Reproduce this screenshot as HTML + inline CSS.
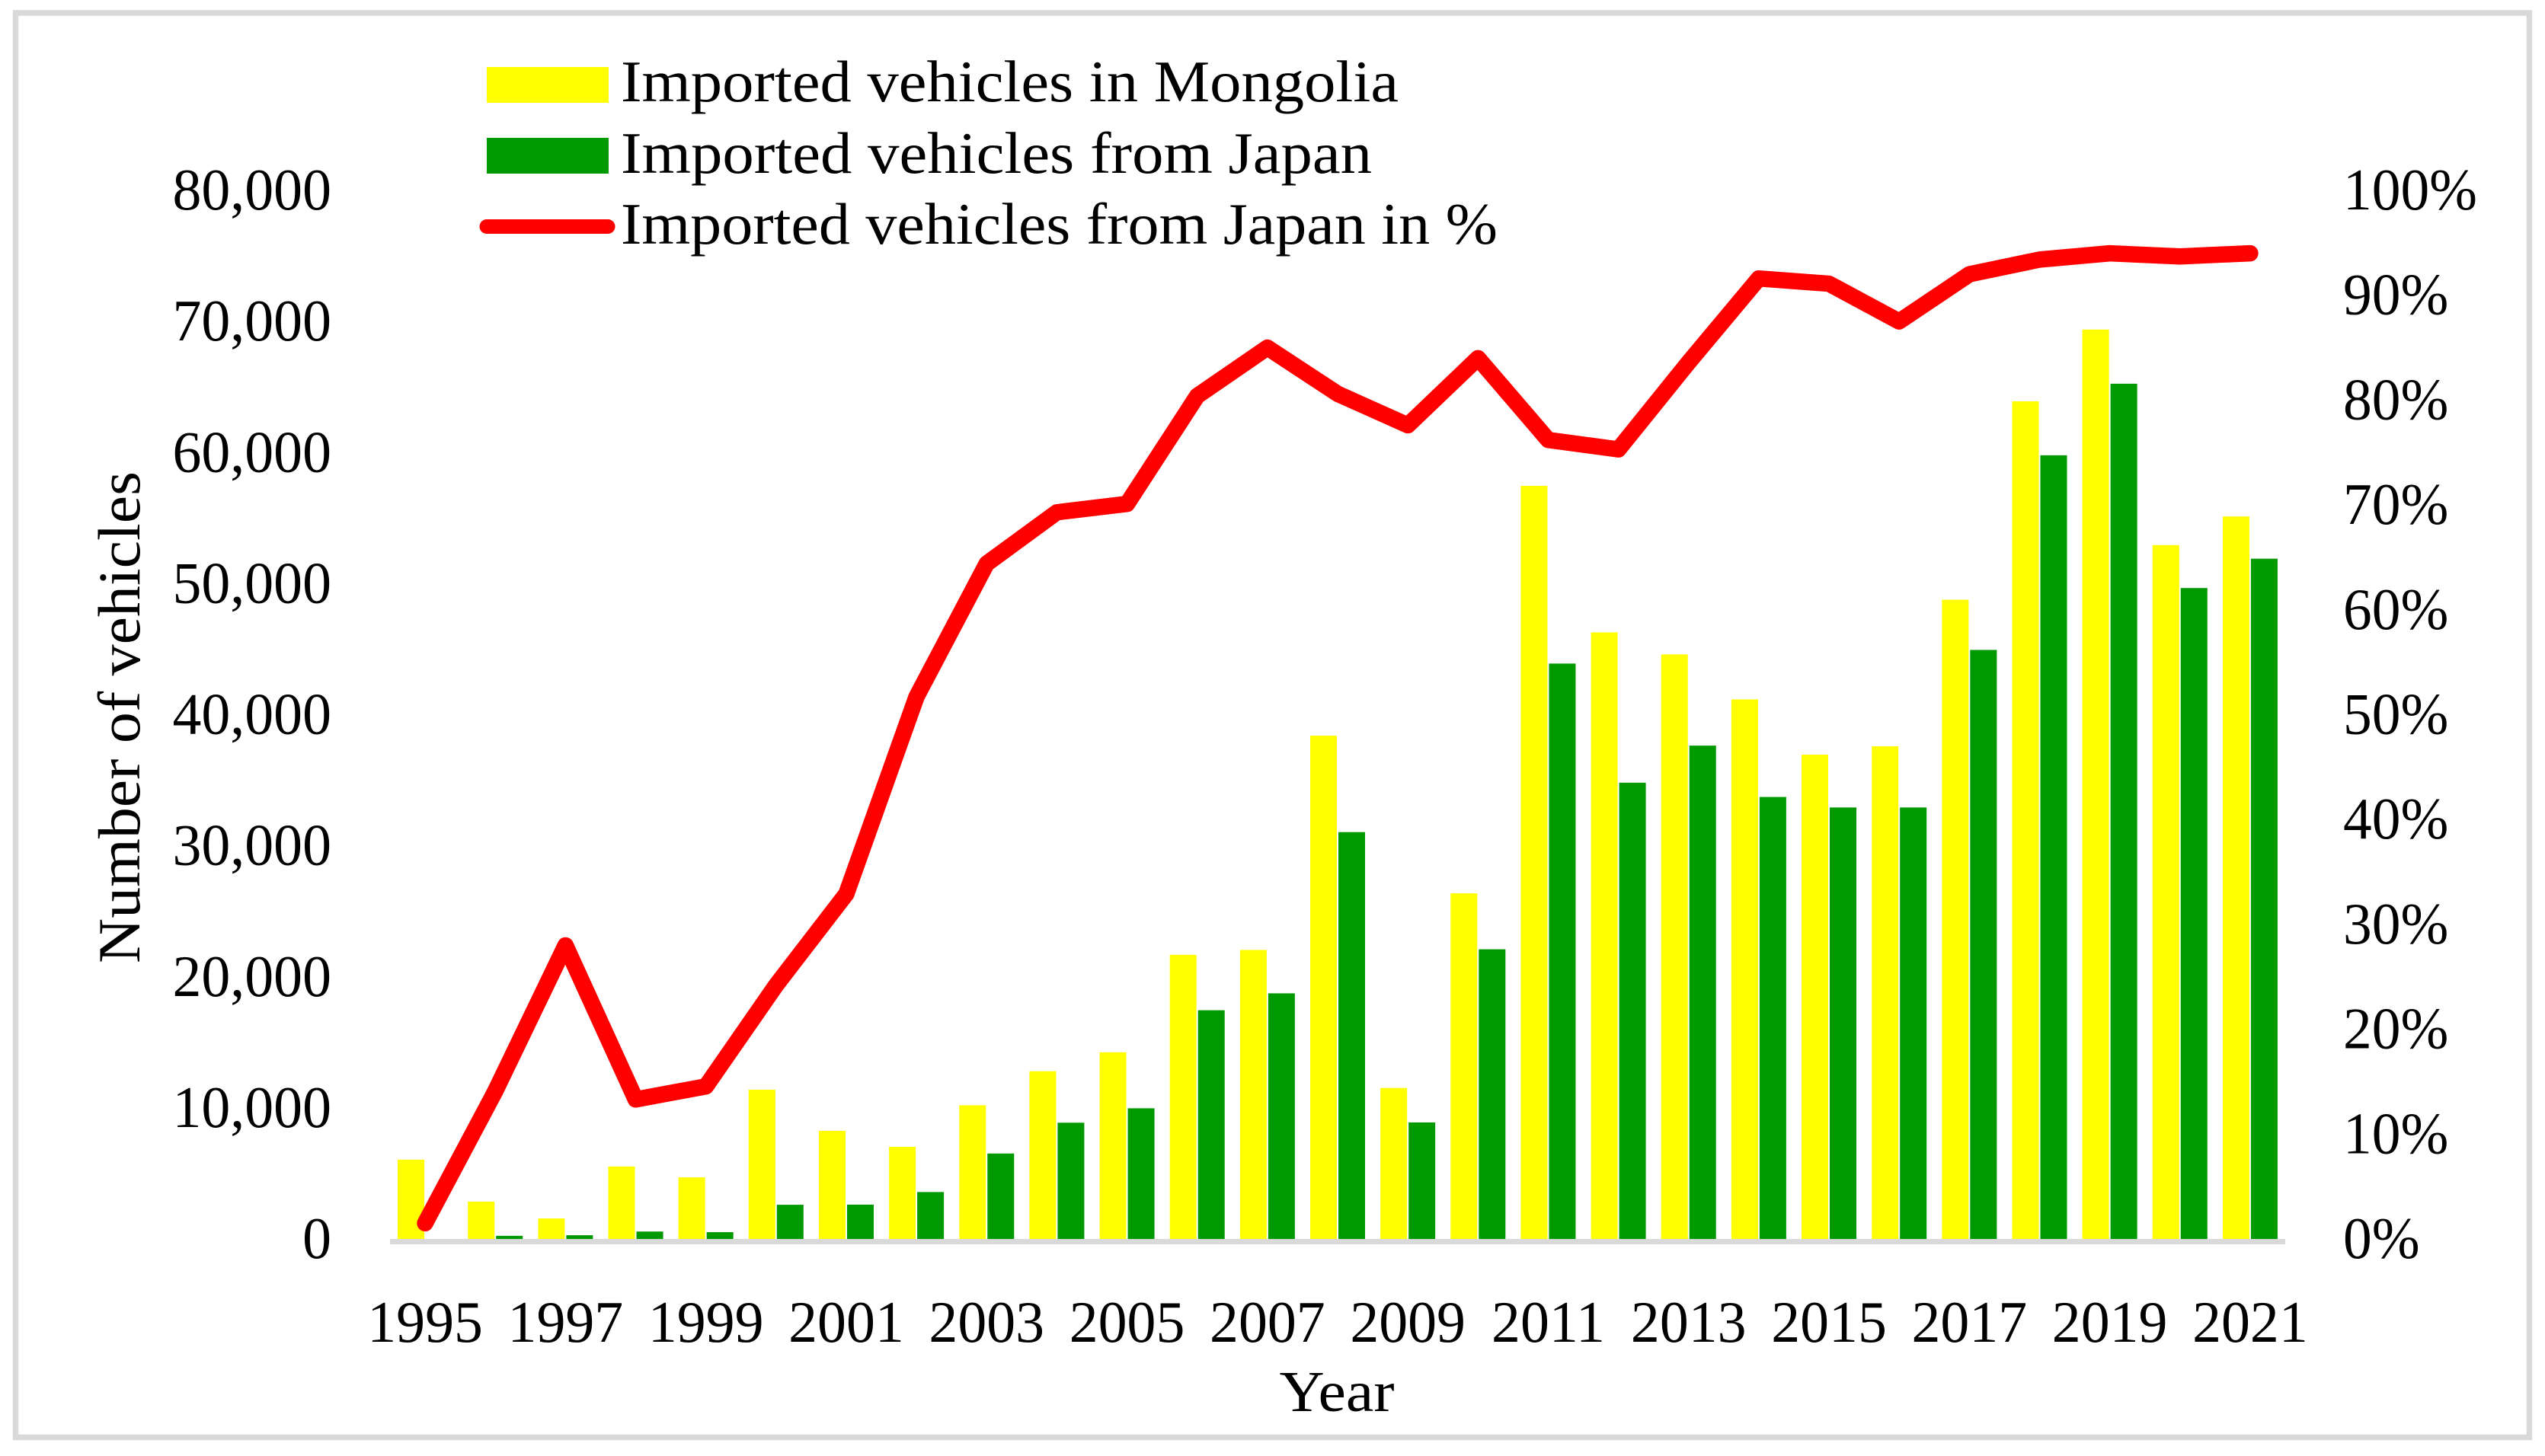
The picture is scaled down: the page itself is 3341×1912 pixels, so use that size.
<!DOCTYPE html>
<html lang="en">
<head>
<meta charset="utf-8">
<title>Imported vehicles in Mongolia</title>
<style>
html,body{margin:0;padding:0;background:#fff;}
svg{display:block;}
text{font-family:"Liberation Serif","Times New Roman",serif;fill:#000;}
</style>
</head>
<body>
<svg id="chart" xmlns="http://www.w3.org/2000/svg" width="3341" height="1912" viewBox="0 0 3341 1912">
  <rect x="0" y="0" width="3341" height="1912" fill="#ffffff"/>
  <rect x="20.5" y="17" width="3300" height="1870.5" fill="#ffffff" stroke="#d9d9d9" stroke-width="7.5"/>
  <g id="bars"></g>
  <rect x="512" y="1627" width="2488" height="7" fill="#d9d9d9"/>
  <g id="ticks"></g>
  <polyline id="share-line" fill="none" stroke="#ff0000" stroke-width="21.5" stroke-linejoin="round" stroke-linecap="round"/>
  <text transform="translate(183,942) rotate(-90)" text-anchor="middle" font-size="78" textLength="646" lengthAdjust="spacingAndGlyphs">Number of vehicles</text>
  <text x="1755" y="1853" text-anchor="middle" font-size="76" textLength="151" lengthAdjust="spacingAndGlyphs">Year</text>
  <g>
    <rect x="639" y="88" width="160" height="47" fill="#ffff00"/>
    <text x="815" y="133" font-size="77" textLength="1021" lengthAdjust="spacingAndGlyphs">Imported vehicles in Mongolia</text>
    <rect x="639" y="181" width="160" height="47" fill="#009900"/>
    <text x="815" y="227" font-size="77" textLength="986" lengthAdjust="spacingAndGlyphs">Imported vehicles from Japan</text>
    <line x1="639" y1="297.5" x2="798" y2="297.5" stroke="#ff0000" stroke-width="19" stroke-linecap="round"/>
    <text x="815" y="320" font-size="77" textLength="1151" lengthAdjust="spacingAndGlyphs">Imported vehicles from Japan in %</text>
  </g>
</svg>
<script>
const years = [1995,1996,1997,1998,1999,2000,2001,2002,2003,2004,2005,2006,2007,2008,2009,2010,2011,2012,2013,2014,2015,2016,2017,2018,2019,2020,2021];
const mongoliaVehicles = [6050,2850,1565,5530,4700,11390,8250,7030,10200,12800,14240,21680,22050,38400,11520,26370,57460,46280,44600,41170,36950,37590,48770,63910,69380,52940,55120];
const japanVehicles = [0,240,285,570,520,2610,2620,3580,6520,8870,9970,17450,18740,31040,8890,22100,43900,34810,37640,33720,32920,32920,44940,59790,65250,49660,51900];
const japanSharePercent = [1.5,14.1,28.0,13.3,14.55,24.2,32.9,51.7,64.4,69.3,70.1,80.4,85.0,80.6,77.6,84.0,76.2,75.3,83.6,91.6,91.1,87.5,92.0,93.4,94.0,93.7,94.0];
const leftTicks = [0,10000,20000,30000,40000,50000,60000,70000,80000];
const rightTicks = [0,10,20,30,40,50,60,70,80,90,100];

const SVG_NS = 'http://www.w3.org/2000/svg';
function xCenter(i){ return 512 + (i + 0.5) * 2488 / years.length; }
function yLeft(v){ return 1627 - v * (1377 / 80000); }
function yRight(p){ return 1627 - p * (1377 / 100); }

const barsGroup = document.getElementById('bars');
const ticksGroup = document.getElementById('ticks');

function makeBar(i, value, offset, color){
  const r = document.createElementNS(SVG_NS, 'rect');
  r.setAttribute('x', xCenter(i) + offset);
  r.setAttribute('y', yLeft(value));
  r.setAttribute('width', 35);
  r.setAttribute('height', 1627 - yLeft(value));
  r.setAttribute('fill', color);
  return r;
}
years.forEach(function(year, i){
  const yellowBar = makeBar(i, mongoliaVehicles[i], -36, '#ffff00');
  
  
  barsGroup.appendChild(yellowBar);
  const greenBar = makeBar(i, japanVehicles[i], 1, '#009900');
  
  
  barsGroup.appendChild(greenBar);
});

function makeLabel(str, x, y, anchor, sx){
  const t = document.createElementNS(SVG_NS, 'text');
  t.setAttribute('transform', 'translate(' + x + ',' + y + ') scale(' + sx + ',1)');
  t.setAttribute('text-anchor', anchor);
  t.setAttribute('font-size', 77);
  t.textContent = str;
  ticksGroup.appendChild(t);
  return t;
}
leftTicks.forEach(function(v){
  const label = makeLabel(v.toLocaleString('en-US'), 435, yLeft(v) + 25, 'end', 0.985);
  
  
});
rightTicks.forEach(function(p){
  const label = makeLabel(p + '%', 3076, yRight(p) + 25, 'start', 0.98);
  
  
});
years.forEach(function(year, i){
  if (i % 2 !== 0) return;
  const label = makeLabel(String(year), xCenter(i), 1762, 'middle', 0.985);
  
  
});

document.getElementById('share-line').setAttribute('points', japanSharePercent.map(function(p, i){
  return xCenter(i) + ',' + yRight(p);
}).join(' '));
</script>
</body>
</html>
